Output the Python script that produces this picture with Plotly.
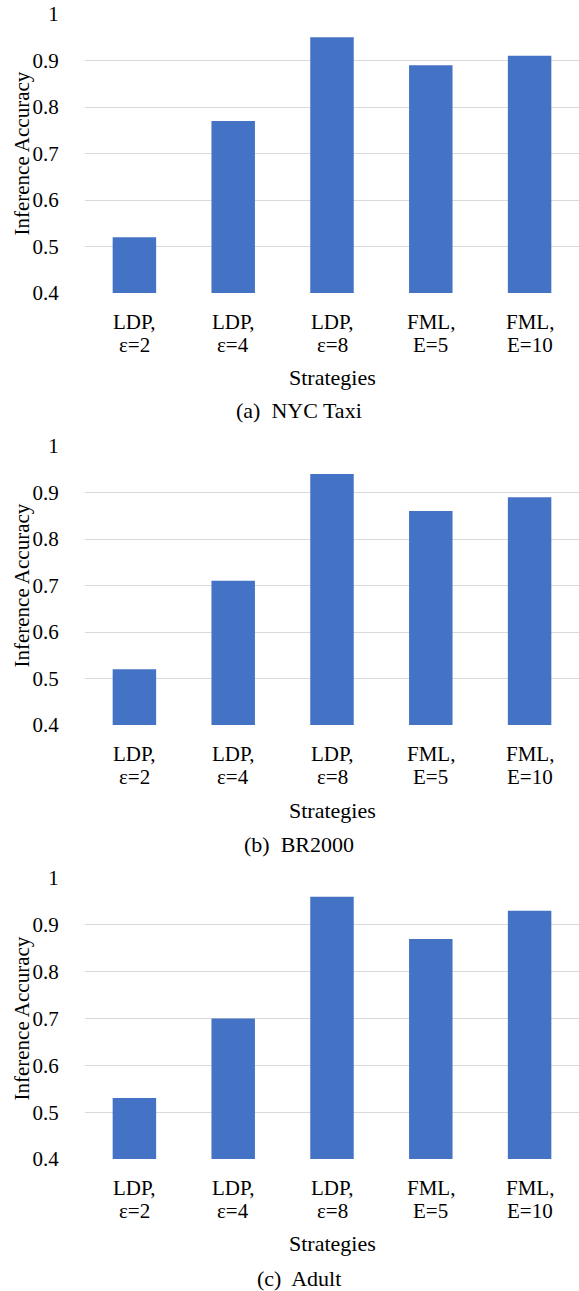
import plotly.graph_objects as go

categories = ["LDP, ε=2", "LDP, ε=4", "LDP, ε=8", "FML, E=5", "FML, E=10"]
label_line1 = ["LDP,", "LDP,", "LDP,", "FML,", "FML,"]
label_line2 = ["ε=2", "ε=4", "ε=8", "E=5", "E=10"]
nyc_taxi = [0.52, 0.77, 0.95, 0.89, 0.91]
br2000 = [0.52, 0.71, 0.94, 0.86, 0.89]
adult = [0.53, 0.70, 0.96, 0.87, 0.93]
captions = ["(a)\u00a0 NYC Taxi", "(b)\u00a0 BR2000", "(c)\u00a0 Adult"]
ytick_vals = [0.4, 0.5, 0.6, 0.7, 0.8, 0.9, 1.0]
ytick_text = ["0.4", "0.5", "0.6", "0.7", "0.8", "0.9", "1"]

W, H = 579, 1291
FONT = "Liberation Serif"
FS_TICK = 21
FS_TEXT = 22
BLUE = "#4472C4"
GRID = "#D9D9D9"

# pixel layout of each panel: (top, bottom, strategies_y, caption_y)
panels = [(14, 293, 378, 411), (446, 725, 810, 845), (878, 1159, 1243, 1278)]
x_left, x_right = 85, 579

def py(p):
    return 1 - p / H

fig = go.Figure()
series = [nyc_taxi, br2000, adult]
for i, (vals, (top, bot, sy, cy)) in enumerate(zip(series, panels)):
    n = "" if i == 0 else str(i + 1)
    fig.add_trace(go.Bar(x=categories, y=vals, marker=dict(color=BLUE, line=dict(width=0)),
                         xaxis="x" + n, yaxis="y" + n, showlegend=False, hoverinfo="skip"))
    fig.layout["xaxis" + n] = dict(domain=[x_left / W, x_right / W], anchor="y" + n,
                                   automargin=False, showticklabels=False,
                                   showgrid=False, showline=False, zeroline=False)
    fig.layout["yaxis" + n] = dict(domain=[py(bot), py(top)], anchor="x" + n,
                                   automargin=False,
                                   range=[0.4, 1.0], tickvals=ytick_vals, ticktext=ytick_text,
                                   showgrid=True, gridcolor=GRID, gridwidth=1.3,
                                   zeroline=False, showline=False,
                                   ticks="outside", ticklen=21, tickcolor="rgba(0,0,0,0)",
                                   tickfont=dict(family=FONT, size=FS_TICK, color="#000"))
    # two-line category labels under each bar
    for c, l1, l2 in zip(categories, label_line1, label_line2):
        for txt, yy in ((l1, bot + 29), (l2, bot + 52.4)):
            fig.add_annotation(text=txt, x=c, y=py(yy), xref="x" + n, yref="paper",
                               showarrow=False, xanchor="center", yanchor="middle",
                               borderpad=0,
                               font=dict(family=FONT, size=FS_TICK, color="#000"))
    fig.add_annotation(text="Inference Accuracy", textangle=-90, x=21 / W, y=py((top + bot) / 2),
                       xref="paper", yref="paper", showarrow=False, xanchor="center", yanchor="middle",
                       borderpad=0,
                       font=dict(family=FONT, size=21, color="#000"))
    fig.add_annotation(text="Strategies", x=(x_left + x_right) / 2 / W, y=py(sy),
                       xref="paper", yref="paper", showarrow=False, xanchor="center", yanchor="middle",
                       font=dict(family=FONT, size=FS_TEXT, color="#000"))
    fig.add_annotation(text=captions[i], x=299 / W, y=py(cy),
                       xref="paper", yref="paper", showarrow=False, xanchor="center", yanchor="middle",
                       font=dict(family=FONT, size=FS_TEXT, color="#000"))

fig.update_layout(width=W, height=H, margin=dict(l=0, r=0, t=0, b=0, pad=0, autoexpand=False),
                  paper_bgcolor="white", plot_bgcolor="white", bargap=0.56)
fig.write_html("out.html", config={"displayModeBar": False},
               post_script="document.body.style.margin='0';document.body.style.overflow='hidden';")
